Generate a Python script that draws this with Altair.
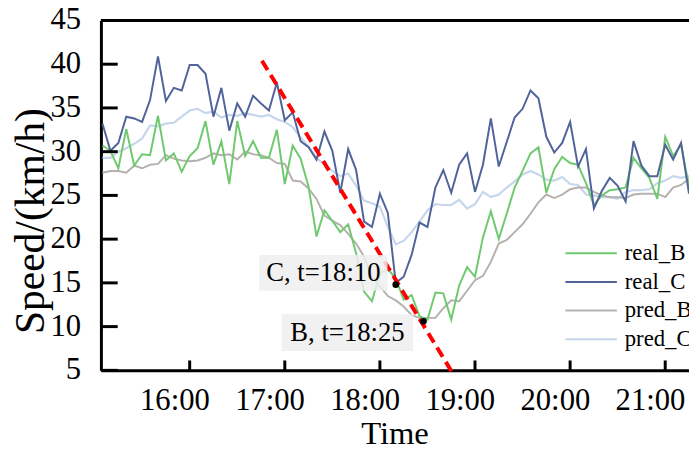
import altair as alt
import pandas as pd

# ---------------- data ----------------
start_minute = 15 * 60 + 5      # 15:05
step_minutes = 5

real_B = [30.7, 30.1, 28.1, 32.6, 28.4, 29.7, 29.6, 34.1, 29.0, 29.8,
          27.7, 29.5, 30.4, 33.5, 28.5, 31.2, 26.3, 33.5, 29.5, 31.2,
          29.3, 29.3, 32.5, 26.3, 30.7, 29.2, 26.0, 20.3, 23.3, 22.1,
          20.8, 21.7, 18.4, 14.0, 12.9, 16.1, 16.6, 15.5, 13.1, 13.6,
          11.2, 10.8, 13.9, 13.8, 10.8, 14.7, 16.8, 15.7, 20.2, 23.2,
          20.0, 22.9, 25.9, 27.8, 29.8, 30.5, 25.3, 28.0, 29.4, 28.7,
          28.5, 26.4, 23.9, 25.0, 25.6, 25.7, 25.9, 29.3, 28.1, 27.0,
          24.6, 31.7, 29.5, 30.8, 26.0]

real_C = [33.2, 30.1, 31.0, 34.0, 33.8, 33.4, 35.9, 40.9, 35.8, 37.3,
          37.0, 39.9, 39.9, 38.9, 34.0, 37.3, 32.4, 35.5, 34.0, 36.4,
          35.5, 34.7, 37.9, 33.6, 34.5, 31.2, 30.5, 29.1, 32.3, 30.1,
          25.3, 30.3, 27.9, 22.0, 21.4, 25.2, 23.0, 15.0, 15.7, 18.2,
          21.9, 21.4, 25.9, 27.9, 25.3, 28.5, 29.8, 25.4, 28.5, 33.8,
          28.3, 31.1, 33.9, 34.9, 37.0, 36.1, 31.7, 29.9, 31.0, 33.4,
          28.3, 30.3, 23.5, 25.5, 27.0, 26.1, 24.3, 31.2, 28.4, 27.2,
          27.2, 30.8, 29.1, 31.0, 25.2]

pred_B = [27.6, 27.8, 27.8, 27.6, 28.4, 28.1, 28.5, 28.6, 29.6, 29.2,
          29.0, 28.9, 29.0, 29.3, 29.8, 29.6, 29.7, 29.1, 30.0, 29.7,
          29.6, 29.3, 28.7, 28.6, 26.7, 26.6, 25.8, 24.6, 22.7, 22.1,
          21.6, 20.6, 19.5, 18.0, 15.7, 14.6, 13.5, 13.0, 12.3, 11.3,
          11.0, 11.0, 11.0, 12.1, 13.0, 12.9, 14.1, 15.3, 15.8, 17.4,
          19.5, 19.9, 20.8, 21.7, 22.9, 24.2, 25.1, 24.7, 25.1, 25.7,
          25.9, 25.9, 25.4, 25.0, 24.8, 24.8, 24.7, 25.1, 25.2, 25.2,
          25.2, 24.8, 25.9, 26.2, 26.9]

pred_C = [29.3, 29.3, 30.0, 30.4, 30.9, 31.5, 33.0, 32.9, 33.2, 33.3,
          34.0, 34.7, 34.9, 34.4, 34.6, 33.9, 34.2, 34.1, 34.4, 34.2,
          34.0, 34.2, 33.7, 33.4, 32.8, 31.6, 30.6, 29.3, 28.5, 27.8,
          27.2, 27.5, 26.1, 24.4, 24.1, 23.7, 21.4, 19.4, 19.8, 20.8,
          22.0, 23.3, 24.0, 23.9, 23.9, 24.5, 23.5, 24.0, 25.4, 24.8,
          25.1, 25.9, 26.6, 27.4, 27.8, 27.4, 26.8, 26.7, 27.1, 26.3,
          26.2, 25.1, 25.0, 24.8, 24.8, 24.6, 25.4, 25.6, 25.6, 25.7,
          26.4, 26.7, 27.2, 27.0, 27.2]

series_names = ["real_B", "real_C", "pred_B", "pred_C"]
series_colors = ["#6FC96F", "#50649A", "#B6B1AF", "#C6D6EB"]
draw_order = ["pred_C", "pred_B", "real_B", "real_C"]

x_tick_minutes = [960, 1020, 1080, 1140, 1200, 1260]
x_tick_labels = ["16:00", "17:00", "18:00", "19:00", "20:00", "21:00"]
x_label_shift_minutes = -9.3     # labels sit slightly left of their ticks
y_tick_values = [5, 10, 15, 20, 25, 30, 35, 40, 45]

x_title = "Time"
y_title = "Speed/(km/h)"

# red dashed trend line (time in minutes, speed)
trend_t = [1005.6, 1125.5]
trend_v = [40.4, 4.8]

# marked points C and B
dot_t = [1090, 1107.5]
dot_v = [14.8, 10.6]

# annotation labels with boxes
ann_text = ["C, t=18:10", "B, t=18:25"]
ann_t0 = [1003.8, 1018.1]
ann_t1 = [1084.8, 1101.0]
ann_v0 = [14.1, 7.2]
ann_v1 = [18.2, 11.4]

# ---------------- tables ----------------
minutes = [start_minute + step_minutes * i for i in range(len(real_B))]
values = {"real_B": real_B, "real_C": real_C, "pred_B": pred_B, "pred_C": pred_C}
df = pd.DataFrame([
    {"t": t, "speed": v, "series": name}
    for name in series_names
    for t, v in zip(minutes, values[name])
])
trend_df = pd.DataFrame({"t": trend_t, "speed": trend_v})
dot_df = pd.DataFrame({"t": dot_t, "speed": dot_v})
ann_df = pd.DataFrame({
    "text": ann_text, "t0": ann_t0, "t1": ann_t1, "v0": ann_v0, "v1": ann_v1,
    "tc": [(a + b) / 2 for a, b in zip(ann_t0, ann_t1)],
    "vc": [(a + b) / 2 for a, b in zip(ann_v0, ann_v1)],
})
xt_df = pd.DataFrame({"t": x_tick_minutes, "label": x_tick_labels,
                      "tl": [m + x_label_shift_minutes for m in x_tick_minutes]})
yt_df = pd.DataFrame({"v": y_tick_values, "label": [str(v) for v in y_tick_values]})
top_df = pd.DataFrame({"v": [45]})
xtitle_df = pd.DataFrame({"label": [x_title]})
ytitle_df = pd.DataFrame({"label": [y_title]})

FONT = "Liberation Serif"
W, H = 595, 354

xscale = alt.Scale(domain=[904, 1275], nice=False, zero=False)
yscale = alt.Scale(domain=[5, 45], nice=False, zero=False)

x_axis = alt.Axis(labels=False, ticks=False, grid=False, title=None,
                  domainColor="black", domainWidth=3)
y_axis = alt.Axis(labels=False, ticks=False, grid=False, title=None,
                  domainColor="black", domainWidth=3)

legend = alt.Legend(
    title=None, orient="none", legendX=469, legendY=221,
    symbolType="stroke", symbolSize=2704, symbolStrokeWidth=2,
    labelFont=FONT, labelFontSize=23, labelColor="black",
    labelOffset=7, clipHeight=29, rowPadding=0, padding=0,
)
color = alt.Color("series:N", scale=alt.Scale(domain=series_names, range=series_colors),
                  legend=legend)

X = alt.X("t:Q", scale=xscale, axis=x_axis)
Y = alt.Y("speed:Q", scale=yscale, axis=y_axis)

base = alt.Chart(df)
line_layers = []
for name in draw_order:
    line_layers.append(
        base.transform_filter(alt.datum.series == name)
        .mark_line(strokeWidth=2.2 if name == "pred_C" else 2)
        .encode(x=X, y=Y, color=color)
    )

trend = alt.Chart(trend_df).mark_line(color="#FF0000", strokeWidth=4,
                                      strokeDash=[11, 6]).encode(x=X, y=Y)

boxes = alt.Chart(ann_df).mark_rect(color="#EEEEEE", opacity=0.85).encode(
    x=alt.X("t0:Q", scale=xscale, axis=x_axis), x2="t1:Q",
    y=alt.Y("v0:Q", scale=yscale, axis=y_axis), y2="v1:Q")

texts = alt.Chart(ann_df).mark_text(font=FONT, fontSize=27, color="black",
                                    align="center", baseline="middle").encode(
    x=alt.X("tc:Q", scale=xscale, axis=x_axis),
    y=alt.Y("vc:Q", scale=yscale, axis=y_axis), text="text:N")

dots = alt.Chart(dot_df).mark_circle(color="black", size=45, opacity=1).encode(x=X, y=Y)

# inward tick marks
yticks = alt.Chart(yt_df).mark_rule(color="black", strokeWidth=3).encode(
    y=alt.Y("v:Q", scale=yscale, axis=y_axis), x=alt.value(0), x2=alt.value(17))
xticks = alt.Chart(xt_df).mark_rule(color="black", strokeWidth=3).encode(
    x=alt.X("t:Q", scale=xscale, axis=x_axis), y=alt.value(H), y2=alt.value(H - 10))
top_border = alt.Chart(top_df).mark_rule(color="black", strokeWidth=3).encode(
    y=alt.Y("v:Q", scale=yscale, axis=y_axis))

# tick labels and axis titles
ylabels = alt.Chart(yt_df).mark_text(font=FONT, fontSize=31, color="black",
                                     align="right", baseline="middle").encode(
    y=alt.Y("v:Q", scale=yscale, axis=y_axis), x=alt.value(-20), text="label:N")
xlabels = alt.Chart(xt_df).mark_text(font=FONT, fontSize=31, color="black",
                                     align="center", baseline="alphabetic").encode(
    x=alt.X("tl:Q", scale=xscale, axis=x_axis), y=alt.value(H + 40), text="label:N")
xtitle = alt.Chart(xtitle_df).mark_text(font=FONT, fontSize=33, color="black",
                                        align="center", baseline="alphabetic").encode(
    x=alt.value(W / 2), y=alt.value(H + 75), text="label:N")
ytitle = alt.Chart(ytitle_df).mark_text(font=FONT, fontSize=42, color="black",
                                        align="center", baseline="middle",
                                        angle=270).encode(
    x=alt.value(-71), y=alt.value(203), text="label:N")

chart = alt.layer(
    *line_layers, trend, boxes, texts, dots, yticks, xticks, top_border,
    ylabels, xlabels, xtitle, ytitle
).properties(
    width=W, height=H,
    autosize=alt.AutoSizeParams(type="none"),
    padding={"left": 94, "top": 10, "right": 0, "bottom": 80},
).configure_view(stroke=None).configure(background="white")

chart.save("out.html", embed_options={"renderer": "svg", "actions": False})
